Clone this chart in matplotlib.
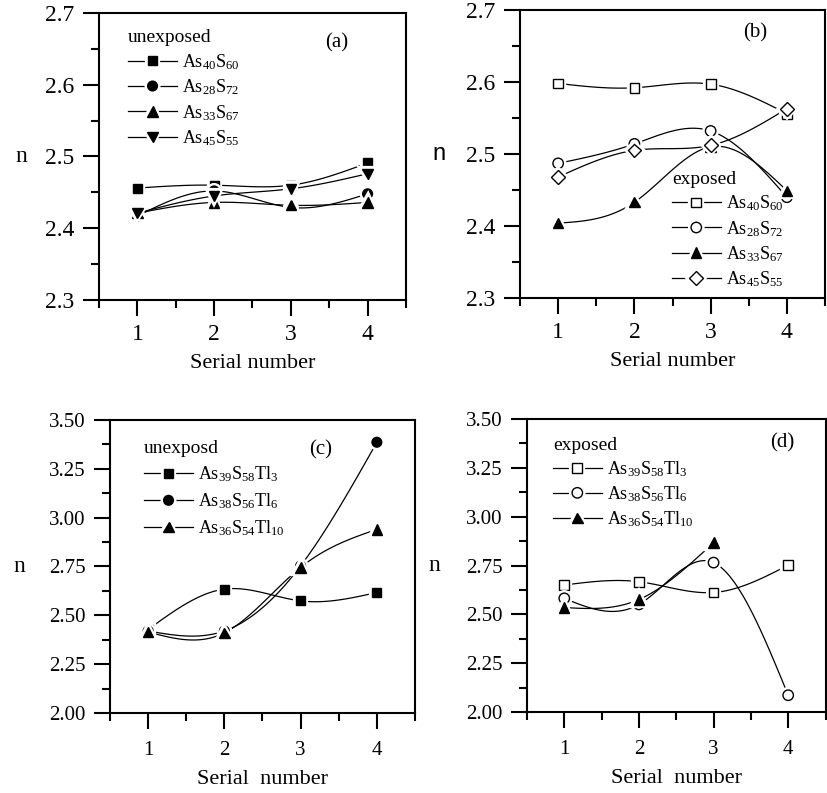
import numpy as np
import matplotlib
matplotlib.use("Agg")
import matplotlib.pyplot as plt
from matplotlib.ticker import FixedLocator, MultipleLocator, FormatStrFormatter
import matplotlib.patheffects as pe

plt.rcParams["font.family"] = ["Liberation Serif", "DejaVu Serif"]
plt.rcParams["mathtext.fontset"] = "custom"
plt.rcParams["mathtext.rm"] = "Liberation Serif"
plt.rcParams["mathtext.it"] = "Liberation Serif:italic"

serial = [1, 2, 3, 4]

# (a) unexposed As-S films
a_labels = [r"As$_{\mathrm{40}}$S$_{\mathrm{60}}$", r"As$_{\mathrm{28}}$S$_{\mathrm{72}}$",
            r"As$_{\mathrm{33}}$S$_{\mathrm{67}}$", r"As$_{\mathrm{45}}$S$_{\mathrm{55}}$"]
a_as40s60 = [2.456, 2.460, 2.460, 2.491]
a_as28s72 = [2.417, 2.452, 2.429, 2.448]
a_as33s67 = [2.421, 2.436, 2.432, 2.436]
a_as45s55 = [2.421, 2.445, 2.455, 2.476]

# (b) exposed As-S films
b_as40s60 = [2.598, 2.592, 2.597, 2.556]
b_as28s72 = [2.487, 2.514, 2.532, 2.440]
b_as33s67 = [2.404, 2.433, 2.510, 2.449]
b_as45s55 = [2.468, 2.505, 2.512, 2.563]

# (c) unexposed As-S-Tl films
c_labels = [r"As$_{\mathrm{39}}$S$_{\mathrm{58}}$Tl$_{\mathrm{3}}$",
            r"As$_{\mathrm{38}}$S$_{\mathrm{56}}$Tl$_{\mathrm{6}}$",
            r"As$_{\mathrm{36}}$S$_{\mathrm{54}}$Tl$_{\mathrm{10}}$"]
c_tl3 = [2.427, 2.634, 2.574, 2.617]
c_tl6 = [2.420, 2.420, 2.753, 3.386]
c_tl10 = [2.415, 2.410, 2.745, 2.940]

# (d) exposed As-S-Tl films
d_tl3 = [2.650, 2.667, 2.612, 2.752]
d_tl6 = [2.582, 2.551, 2.765, 2.086]
d_tl10 = [2.535, 2.576, 2.867]

y_ab_ticks = [2.3, 2.4, 2.5, 2.6, 2.7]
y_cd_ticks = [2.00, 2.25, 2.50, 2.75, 3.00, 3.25, 3.50]


def natural_spline(x, y, n=120):
    x = np.asarray(x, float)
    y = np.asarray(y, float)
    k = len(x)
    if k < 3:
        xs = np.linspace(x[0], x[-1], n)
        return xs, np.interp(xs, x, y)
    h = np.diff(x)
    A = np.zeros((k, k))
    r = np.zeros(k)
    A[0, 0] = A[-1, -1] = 1.0
    for i in range(1, k - 1):
        A[i, i - 1] = h[i - 1]
        A[i, i] = 2 * (h[i - 1] + h[i])
        A[i, i + 1] = h[i]
        r[i] = 6 * ((y[i + 1] - y[i]) / h[i] - (y[i] - y[i - 1]) / h[i - 1])
    m = np.linalg.solve(A, r)
    xs = np.linspace(x[0], x[-1], n)
    idx = np.clip(np.searchsorted(x, xs) - 1, 0, k - 2)
    x0, x1 = x[idx], x[idx + 1]
    hh = x1 - x0
    t0 = x1 - xs
    t1 = xs - x0
    ys = (m[idx] * t0 ** 3 / (6 * hh) + m[idx + 1] * t1 ** 3 / (6 * hh)
          + (y[idx] / hh - m[idx] * hh / 6) * t0
          + (y[idx + 1] / hh - m[idx + 1] * hh / 6) * t1)
    return xs, ys


halo = [pe.Stroke(linewidth=4.5, foreground="white"), pe.Normal()]


def series(ax, y, marker, filled, ms=7):
    x = serial[:len(y)]
    xs, ys = natural_spline(x, y)
    line, = ax.plot(xs, ys, color="black", lw=0.9, zorder=2)
    mk, = ax.plot(x, y, linestyle="none", marker=marker, ms=ms,
                  mfc="black" if filled else "white", mec="black", mew=1.0,
                  zorder=3, path_effects=halo)
    return (line, mk)


def style(ax, ylim, yticks, yminor, fmt, tick_fs, xpad):
    ax.set_xlim(0.5, 4.5)
    ax.set_ylim(*ylim)
    ax.xaxis.set_major_locator(FixedLocator(serial))
    ax.xaxis.set_minor_locator(MultipleLocator(0.5))
    ax.yaxis.set_major_locator(FixedLocator(yticks))
    ax.yaxis.set_minor_locator(MultipleLocator(yminor))
    ax.yaxis.set_major_formatter(FormatStrFormatter(fmt))
    ax.tick_params(which="major", direction="out", length=11.5, width=1.5,
                   labelsize=tick_fs)
    ax.tick_params(which="minor", direction="out", length=5.8, width=1.5)
    ax.tick_params(axis="y", which="major", pad=6)
    ax.tick_params(axis="x", which="major", pad=xpad)
    for s in ax.spines.values():
        s.set_linewidth(1.5)


def legend(ax, handles, labels, title, anchor, fs=13, spacing=0.3):
    leg = ax.legend(handles, labels, title=title, loc="upper left",
                    bbox_to_anchor=anchor, frameon=False, fontsize=fs,
                    title_fontsize=fs + 1, handlelength=2.7, handletextpad=0.3,
                    labelspacing=spacing, borderpad=0, borderaxespad=0,
                    alignment="left")
    return leg


fig = plt.figure(figsize=(8.27, 7.93), dpi=100)
ax_a = fig.add_axes([0.1197, 0.6217, 0.3712, 0.3619])
ax_b = fig.add_axes([0.6288, 0.6242, 0.3688, 0.3632])
ax_c = fig.add_axes([0.1330, 0.1009, 0.3688, 0.3695])
ax_d = fig.add_axes([0.6372, 0.1021, 0.3610, 0.3695])

# panel (a)
ha = [series(ax_a, a_as40s60, "s", True, 6.5),
      series(ax_a, a_as28s72, "o", True, 7),
      series(ax_a, a_as33s67, "^", True, 7.5),
      series(ax_a, a_as45s55, "v", True, 7.5)]
style(ax_a, (2.3, 2.7), y_ab_ticks, 0.05, "%.1f", 17, 6)
legend(ax_a, ha, a_labels, "unexposed", (0.095, 0.944), spacing=0.32)
ax_a.text(0.775, 0.895, "(a)", transform=ax_a.transAxes, ha="center",
          va="center", fontsize=15)

# panel (b)
hb = [series(ax_b, b_as40s60, "s", False, 7),
      series(ax_b, b_as28s72, "o", False, 7.5),
      series(ax_b, b_as33s67, "^", True, 7.5),
      series(ax_b, b_as45s55, "D", False, 7)]
style(ax_b, (2.3, 2.7), y_ab_ticks, 0.05, "%.1f", 17, 6)
legend(ax_b, hb, a_labels, "exposed", (0.498, 0.440))
ax_b.text(0.770, 0.920, "(b)", transform=ax_b.transAxes, ha="center",
          va="center", fontsize=15)

# panel (c)
hc = [series(ax_c, c_tl3, "s", True, 6.5),
      series(ax_c, c_tl6, "o", True, 7),
      series(ax_c, c_tl10, "^", True, 7.5)]
style(ax_c, (2.0, 3.5), y_cd_ticks, 0.125, "%.2f", 15, 8.5)
legend(ax_c, hc, c_labels, "unexposd", (0.112, 0.930), spacing=0.4)
ax_c.text(0.689, 0.898, "(c)", transform=ax_c.transAxes, ha="center",
          va="center", fontsize=15)

# panel (d)
hd = [series(ax_d, d_tl3, "s", False, 7),
      series(ax_d, d_tl6, "o", False, 7.5),
      series(ax_d, d_tl10, "^", True, 7.5)]
style(ax_d, (2.0, 3.5), y_cd_ticks, 0.125, "%.2f", 15, 8.5)
legend(ax_d, hd, c_labels, "exposed", (0.087, 0.940))
ax_d.text(0.856, 0.918, "(d)", transform=ax_d.transAxes, ha="center",
          va="center", fontsize=15)

# axis titles
for ax, xl, ny, nfam, lp in [(ax_a, "Serial number", -0.254, None, 6.5),
                             (ax_b, "Serial number", -0.266, "Liberation Sans", 6.5),
                             (ax_c, "Serial  number", -0.298, None, 7.5),
                             (ax_d, "Serial  number", -0.311, None, 7.5)]:
    ax.set_xlabel(xl, fontsize=16, labelpad=lp)
    kw = {"family": nfam} if nfam else {}
    ax.set_ylabel("n", rotation=0, fontsize=17, va="center", ha="center", **kw)
    ax.yaxis.set_label_coords(ny, 0.5)

fig.savefig("out.png", dpi=100)
